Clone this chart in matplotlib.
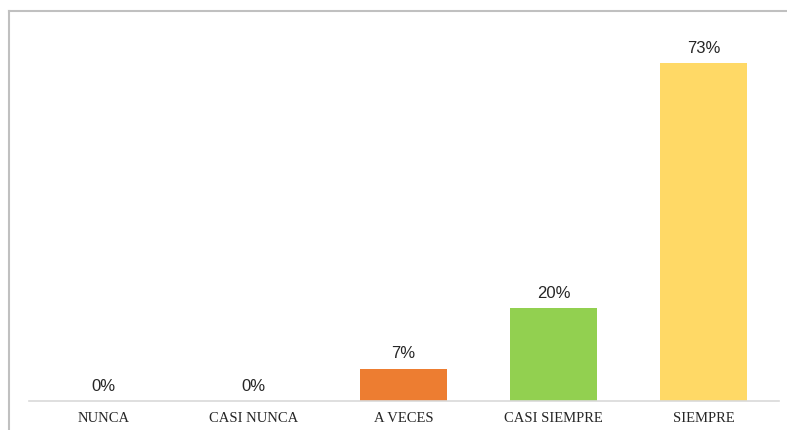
import numpy as np
import matplotlib.pyplot as plt
from matplotlib.lines import Line2D

# respuestas por categoria
categorias = ['NUNCA', 'CASI NUNCA', 'A VECES', 'CASI SIEMPRE', 'SIEMPRE']
porcentajes = [0.0, 0.0, 0.07, 0.20, 0.73]
colores = ['#4472C4', '#A5A5A5', '#ED7D31', '#92D050', '#FFD966']

W, H = 787, 431
fig = plt.figure(figsize=(W / 100, H / 100), dpi=100)

# area del grafico en pixeles
left, right = 28.5, 778.5
bottom, top = 402, 31.5
ax = fig.add_axes([left / W, 1 - bottom / H, (right - left) / W, (bottom - top) / H])

x = np.arange(len(categorias))
bars = ax.bar(x, porcentajes, width=0.575, color=colores)
ax.set_xlim(-0.5, len(categorias) - 0.5)
ax.set_ylim(0, 0.8)

for xi, v in zip(x, porcentajes):
    ax.annotate(f'{v:.0%}', (xi, v), xytext=(0, 6), textcoords='offset points',
                ha='center', va='bottom', fontsize=12, color='#262626',
                family='Liberation Sans')

ax.set_xticks(x)
ax.set_xticklabels(categorias, family='Liberation Serif', fontsize=10.5, color='#262626')
ax.tick_params(axis='x', length=0, pad=7)
ax.set_yticks([])
for s in ['top', 'right', 'left']:
    ax.spines[s].set_visible(False)
ax.spines['bottom'].set_color('#D9D9D9')
ax.spines['bottom'].set_linewidth(1.2)

# marco exterior
fig.add_artist(Line2D([8.5 / W, 1], [1 - 12 / H, 1 - 12 / H], color='#C0C0C0', lw=1.5))
fig.add_artist(Line2D([8.5 / W, 8.5 / W], [0, 1 - 12 / H], color='#C0C0C0', lw=1.5))

fig.savefig('out.png', dpi=100)
